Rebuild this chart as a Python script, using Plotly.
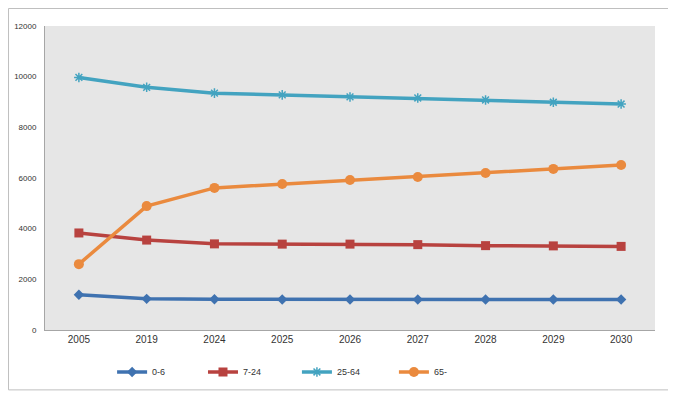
import plotly.graph_objects as go

years = ["2005", "2019", "2024", "2025", "2026", "2027", "2028", "2029", "2030"]
age_0_6 = [1390, 1230, 1215, 1205, 1205, 1205, 1205, 1205, 1205]
age_7_24 = [3830, 3550, 3400, 3390, 3390, 3370, 3330, 3320, 3300]
age_25_64 = [9970, 9580, 9350, 9280, 9200, 9160, 9080, 8990, 8920]
age_65 = [2600, 4890, 5610, 5760, 5920, 6040, 6200, 6360, 6510]

series = [
    ("0-6", age_0_6, "#3f72b0", "diamond", 8),
    ("7-24", age_7_24, "#b8423f", "square", 9),
    ("25-64", age_25_64, "#43a3c0", "asterisk-open", 8),
    ("65-", age_65, "#ea8a3e", "circle", 10),
]
legend_ids = ["legend", "legend2", "legend3", "legend4"]
legend_x = [0.110, 0.259, 0.413, 0.572]

fig = go.Figure()
for (name, vals, color, sym, sz), lid in zip(series, legend_ids):
    fig.add_trace(go.Scatter(
        x=years, y=vals, name=name, mode="lines+markers",
        line=dict(color=color, width=3.5),
        marker=dict(symbol=sym, size=sz, color=color,
                    line=dict(color=color, width=1.5 if sym == "asterisk-open" else 0)),
        legend=lid,
    ))

legend_common = dict(orientation="h", y=-0.138, xanchor="left", yanchor="middle",
                     font=dict(size=9), itemwidth=30, bgcolor="rgba(0,0,0,0)")
layout_legends = {}
for lid, lx in zip(legend_ids, legend_x):
    layout_legends[lid] = dict(legend_common, x=lx)

fig.update_layout(
    width=668, height=387,
    margin=dict(l=37, r=21, t=18, b=65, autoexpand=False),
    paper_bgcolor="white",
    plot_bgcolor="#e6e6e6",
    font=dict(family="Liberation Sans, Arial, sans-serif", size=9, color="#333333"),
    showlegend=True,
    shapes=[dict(type="rect", xref="paper", yref="paper",
                 x0=-0.0598, x1=1.0262, y0=-0.197, y1=1.0576,
                 line=dict(color="#bfbfbf", width=1), fillcolor="rgba(0,0,0,0)", layer="below")],
    **layout_legends,
)
fig.update_xaxes(type="category", range=[-0.5, 8.5], showgrid=False,
                 showline=True, linecolor="#a6a6a6", linewidth=1,
                 ticks="", tickfont=dict(size=10), zeroline=False, automargin=False)
fig.update_yaxes(range=[0, 12000], dtick=2000, tickformat="d", showgrid=False,
                 showline=True, linecolor="#a6a6a6", linewidth=1,
                 ticks="", tickfont=dict(size=8), zeroline=False, ticklabelstandoff=6,
                 automargin=False)

fig.write_html("out.html")
